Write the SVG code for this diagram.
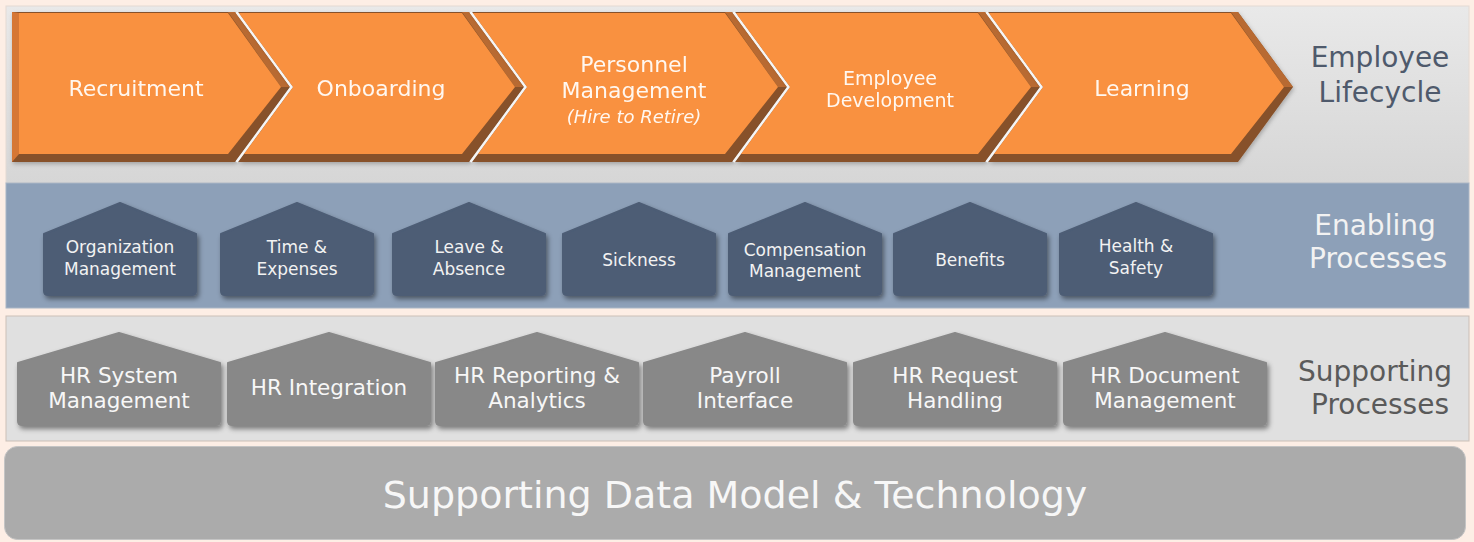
<svg xmlns="http://www.w3.org/2000/svg" width="1474" height="542" viewBox="0 0 1474 542">
<defs>
<linearGradient id="band1" x1="0" y1="0" x2="0" y2="1">
<stop offset="0" stop-color="#E9E9E9"/>
<stop offset="1" stop-color="#D6D6D6"/>
</linearGradient>
<filter id="sh" x="-10%" y="-10%" width="125%" height="130%">
<feDropShadow dx="2" dy="3" stdDeviation="2.5" flood-color="#000" flood-opacity="0.45"/>
</filter>
<filter id="csh" x="-5%" y="-5%" width="112%" height="115%">
<feDropShadow dx="1" dy="2" stdDeviation="2" flood-color="#000" flood-opacity="0.25"/>
</filter>
</defs>
<style>
.t{font-family:"DejaVu Sans","Liberation Sans",sans-serif;text-anchor:middle}
.ch{font-size:22px;fill:#FFF7F0}
.chs{font-size:19px;fill:#FFF7F0}
.it{font-size:18px;font-style:italic;fill:#FFF7F0}
.out{fill:#87512A}
.up{fill:#B86B31}
.lft{fill:#D67736}
.face{fill:#F9913F}
.gap{fill:none;stroke:#F6F6F6;stroke-width:2.2}
.en{fill:#4D5D75;stroke:#4D5D75;stroke-width:2;stroke-linejoin:round;filter:url(#sh)}
.ent{font-size:17px;fill:#F2F2F2}
.sp{fill:#888888;stroke:#888888;stroke-width:2;stroke-linejoin:round;filter:url(#sh)}
.spt{font-size:21.5px;fill:#F7F7F7}
.lbl{font-size:28px}
</style>
<rect x="0" y="0" width="1474" height="542" fill="#FDEEE5"/>
<g id="bands">
<rect x="6" y="6" width="1463" height="177" fill="url(#band1)" stroke="#E4DAD3" stroke-width="1"/>
<rect x="6" y="183" width="1463" height="125" fill="#8DA0B8" stroke="#A9B6C6" stroke-width="1"/>
<rect x="6" y="316" width="1463" height="125" fill="#E0E0E0" stroke="#CBBFB7" stroke-width="1"/>
<rect x="4.5" y="446.5" width="1461" height="93" rx="13" fill="#ABABAB" stroke="#C4C4C4" stroke-width="1"/>
</g>
<g id="connectors"/>
<g id="lifecycle">
<g id="recruitment" filter="url(#csh)">
<polygon class="out" points="12,12 235,12 290,87 235,162 12,162"/>
<polygon class="up" points="228,12 235,12 290,87 281,87"/>
<polygon class="lft" points="12,12 19,13 19,154 12,162"/>
<polygon class="face" points="19,13 228,13 281,87 228,154 19,154"/>
<text class="t ch" x="136" y="96">Recruitment</text>
</g>
<g id="onboarding" filter="url(#csh)">
<polygon class="out" points="238,12 469,12 524,87 469,162 238,162 293,87"/>
<polygon class="up" points="462,12 469,12 524,87 515,87"/>
<polygon class="face" points="238.7,13 462,13 515,87 462,154 243.9,154 293,87"/>
<text class="t ch" x="381" y="96">Onboarding</text>
</g>
<g id="personnel" filter="url(#csh)">
<polygon class="out" points="472,12 732,12 787,87 732,162 472,162 527,87"/>
<polygon class="up" points="725,12 732,12 787,87 778,87"/>
<polygon class="face" points="472.7,13 725,13 778,87 725,154 477.9,154 527,87"/>
<text class="t ch" x="634" y="72">Personnel</text>
<text class="t ch" x="634" y="98">Management</text>
<text class="t it" x="634" y="123">(Hire to Retire)</text>
</g>
<g id="development" filter="url(#csh)">
<polygon class="out" points="735,12 985,12 1040,87 985,162 735,162 790,87"/>
<polygon class="up" points="978,12 985,12 1040,87 1031,87"/>
<polygon class="face" points="735.7,13 978,13 1031,87 978,154 740.9,154 790,87"/>
<text class="t chs" x="890" y="85">Employee</text>
<text class="t chs" x="890" y="107">Development</text>
</g>
<g id="learning" filter="url(#csh)">
<polygon class="out" points="988,12 1238,12 1293,87 1238,162 988,162 1043,87"/>
<polygon class="up" points="1231,12 1238,12 1293,87 1284,87"/>
<polygon class="face" points="988.7,13 1231,13 1284,87 1231,154 993.9,154 1043,87"/>
<text class="t ch" x="1142" y="96">Learning</text>
</g>
<polyline class="gap" points="236.5,12 291.5,87 236.5,162"/>
<polyline class="gap" points="470.5,12 525.5,87 470.5,162"/>
<polyline class="gap" points="733.5,12 788.5,87 733.5,162"/>
<polyline class="gap" points="986.5,12 1041.5,87 986.5,162"/>
</g>
<g id="label-lifecycle">
<text class="t lbl" x="1380" y="67" fill="#4F5A6C">Employee</text>
<text class="t lbl" x="1380" y="102" fill="#4F5A6C">Lifecycle</text>
</g>
<g id="org-management">
<path class="en" d="M44,234 L120,203 L196,234 L196,291 Q196,295 192,295 L48,295 Q44,295 44,291 Z"/>
<text class="t ent" x="120" y="253">Organization</text>
<text class="t ent" x="120" y="275">Management</text>
</g>
<g id="time-expenses">
<path class="en" d="M221,234 L297,203 L373,234 L373,291 Q373,295 369,295 L225,295 Q221,295 221,291 Z"/>
<text class="t ent" x="297" y="253">Time &amp;</text>
<text class="t ent" x="297" y="275">Expenses</text>
</g>
<g id="leave-absence">
<path class="en" d="M393,234 L469,203 L545,234 L545,291 Q545,295 541,295 L397,295 Q393,295 393,291 Z"/>
<text class="t ent" x="469" y="253">Leave &amp;</text>
<text class="t ent" x="469" y="275">Absence</text>
</g>
<g id="sickness">
<path class="en" d="M563,234 L639,203 L715,234 L715,291 Q715,295 711,295 L567,295 Q563,295 563,291 Z"/>
<text class="t ent" x="639" y="266">Sickness</text>
</g>
<g id="compensation">
<path class="en" d="M729,234 L805,203 L881,234 L881,291 Q881,295 877,295 L733,295 Q729,295 729,291 Z"/>
<text class="t ent" x="805" y="256">Compensation</text>
<text class="t ent" x="805" y="277">Management</text>
</g>
<g id="benefits">
<path class="en" d="M894,234 L970,203 L1046,234 L1046,291 Q1046,295 1042,295 L898,295 Q894,295 894,291 Z"/>
<text class="t ent" x="970" y="266">Benefits</text>
</g>
<g id="health-safety">
<path class="en" d="M1060,234 L1136,203 L1212,234 L1212,291 Q1212,295 1208,295 L1064,295 Q1060,295 1060,291 Z"/>
<text class="t ent" x="1136" y="252">Health &amp;</text>
<text class="t ent" x="1136" y="274">Safety</text>
</g>
<g id="label-enabling">
<text class="t lbl" x="1375" y="235" fill="#F2F2F2">Enabling</text>
<text class="t lbl" x="1378" y="268" fill="#F2F2F2">Processes</text>
</g>
<g id="hr-system">
<path class="sp" d="M18,363 L119,333 L220,363 L220,421 Q220,425 216,425 L22,425 Q18,425 18,421 Z"/>
<text class="t spt" x="119" y="383">HR System</text>
<text class="t spt" x="119" y="408">Management</text>
</g>
<g id="hr-integration">
<path class="sp" d="M228,363 L329,333 L430,363 L430,421 Q430,425 426,425 L232,425 Q228,425 228,421 Z"/>
<text class="t spt" x="329" y="395">HR Integration</text>
</g>
<g id="hr-reporting">
<path class="sp" d="M436,363 L537,333 L638,363 L638,421 Q638,425 634,425 L440,425 Q436,425 436,421 Z"/>
<text class="t spt" x="537" y="383">HR Reporting &amp;</text>
<text class="t spt" x="537" y="408">Analytics</text>
</g>
<g id="payroll">
<path class="sp" d="M644,363 L745,333 L846,363 L846,421 Q846,425 842,425 L648,425 Q644,425 644,421 Z"/>
<text class="t spt" x="745" y="383">Payroll</text>
<text class="t spt" x="745" y="408">Interface</text>
</g>
<g id="hr-request">
<path class="sp" d="M854,363 L955,333 L1056,363 L1056,421 Q1056,425 1052,425 L858,425 Q854,425 854,421 Z"/>
<text class="t spt" x="955" y="383">HR Request</text>
<text class="t spt" x="955" y="408">Handling</text>
</g>
<g id="hr-document">
<path class="sp" d="M1064,363 L1165,333 L1266,363 L1266,421 Q1266,425 1262,425 L1068,425 Q1064,425 1064,421 Z"/>
<text class="t spt" x="1165" y="383">HR Document</text>
<text class="t spt" x="1165" y="408">Management</text>
</g>
<g id="label-supporting">
<text class="t lbl" x="1375" y="381" fill="#5A5A5A">Supporting</text>
<text class="t lbl" x="1380" y="414" fill="#5A5A5A">Processes</text>
</g>
<g id="data-model">
<text class="t" x="735" y="508" font-size="38" fill="#F7F7F7">Supporting Data Model &amp; Technology</text>
</g>
</svg>
